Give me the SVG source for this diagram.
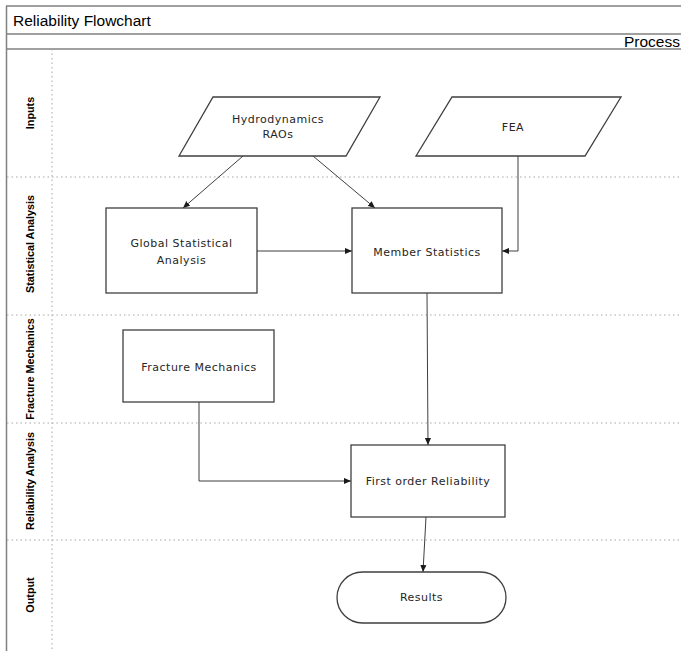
<svg xmlns="http://www.w3.org/2000/svg" width="681" height="651" viewBox="0 0 681 651">
<defs>
<marker id="arr" viewBox="0 0 8 8" refX="8" refY="4" markerWidth="7" markerHeight="7" markerUnits="userSpaceOnUse" orient="auto">
<path d="M0,0.5 L8,4 L0,7.5 z" fill="#1a1a1a"/>
</marker>
</defs>
<style>
.frame{fill:none;stroke:#808080;stroke-width:1.5}
.dot{fill:none;stroke:#a6a6a6;stroke-width:1;stroke-dasharray:1.5 3}
.shape{fill:#ffffff;stroke:#3f3f3f;stroke-width:1.3}
.conn{fill:none;stroke:#3f3f3f;stroke-width:1;marker-end:url(#arr)}
.lbl{font-family:"DejaVu Sans",sans-serif;font-size:11px;letter-spacing:0.5px;fill:#262626;text-anchor:middle}
.lane{font-family:"Liberation Sans",Arial,sans-serif;font-size:10.8px;font-weight:bold;fill:#000;text-anchor:middle}
.title{font-family:"Liberation Sans",Arial,sans-serif;font-size:15.5px;fill:#000}
</style>
<rect x="0" y="0" width="681" height="651" fill="#ffffff"/>
<g id="pool">
<line class="frame" x1="6" y1="6" x2="681" y2="6"/>
<line class="frame" x1="6" y1="34" x2="681" y2="34"/>
<line class="frame" x1="6" y1="49" x2="681" y2="49"/>
<line class="frame" x1="6.5" y1="6" x2="6.5" y2="651"/>
<line class="dot" x1="52" y1="49" x2="52" y2="651"/>
<line class="dot" x1="7" y1="177" x2="681" y2="177"/>
<line class="dot" x1="7" y1="315" x2="681" y2="315"/>
<line class="dot" x1="7" y1="423" x2="681" y2="423"/>
<line class="dot" x1="7" y1="540" x2="681" y2="540"/>
<text class="title" x="13" y="26">Reliability Flowchart</text>
<text class="title" x="680" y="46.5" text-anchor="end">Process</text>
<text class="lane" transform="translate(34,113) rotate(-90)">Inputs</text>
<text class="lane" transform="translate(34,244) rotate(-90)">Statistical Analysis</text>
<text class="lane" transform="translate(34,369) rotate(-90)">Fracture Mechanics</text>
<text class="lane" transform="translate(34,481) rotate(-90)">Reliability Analysis</text>
<text class="lane" transform="translate(34,595) rotate(-90)">Output</text>
</g>
<g id="connectors">
<line class="conn" x1="243" y1="156" x2="183" y2="208"/>
<line class="conn" x1="313" y1="156" x2="375" y2="208"/>
<polyline class="conn" points="518,156 518,251 502,251"/>
<line class="conn" x1="257" y1="251" x2="352" y2="251"/>
<line class="conn" x1="427" y1="293" x2="428" y2="445"/>
<polyline class="conn" points="199,402 199,481 351,481"/>
<line class="conn" x1="426" y1="517" x2="423" y2="572"/>
</g>
<g id="hydro">
<polygon class="shape" points="213,97 380,97 346,156 179,156"/>
<text class="lbl" x="278" y="123">Hydrodynamics</text>
<text class="lbl" x="278" y="138">RAOs</text>
</g>
<g id="fea">
<polygon class="shape" points="452,97 621,97 585,156 416,156"/>
<text class="lbl" x="513" y="131">FEA</text>
</g>
<g id="global">
<rect class="shape" x="106" y="208" width="151" height="85"/>
<text class="lbl" x="181.5" y="247">Global Statistical</text>
<text class="lbl" x="181.5" y="264">Analysis</text>
</g>
<g id="member">
<rect class="shape" x="352" y="208" width="150" height="85"/>
<text class="lbl" x="427" y="255.5">Member Statistics</text>
</g>
<g id="fracture">
<rect class="shape" x="123" y="330" width="151" height="72"/>
<text class="lbl" x="199" y="370.5">Fracture Mechanics</text>
</g>
<g id="forder">
<rect class="shape" x="351" y="445" width="154" height="72"/>
<text class="lbl" x="428" y="485">First order Reliability</text>
</g>
<g id="results">
<rect class="shape" x="337" y="572" width="169" height="51" rx="25.5" ry="25.5"/>
<text class="lbl" x="421.5" y="601">Results</text>
</g>
</svg>
